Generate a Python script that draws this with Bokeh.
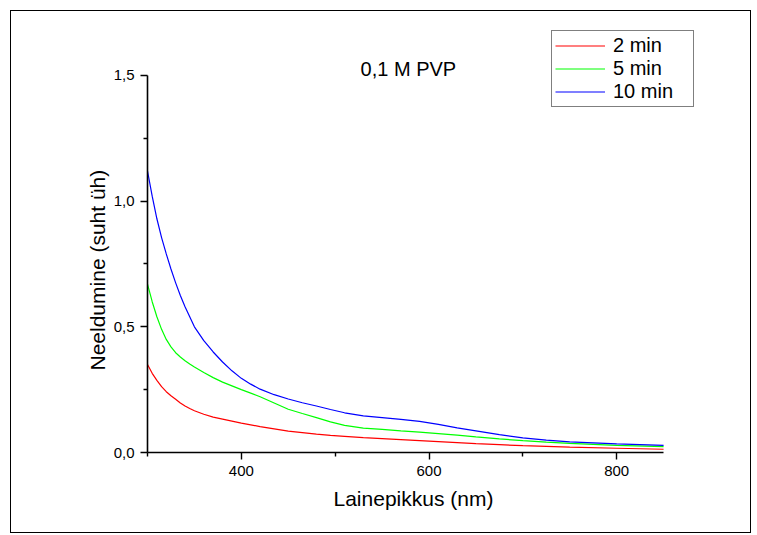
from bokeh.plotting import figure
from bokeh.models import Range1d, FixedTicker, Label, Legend, LegendItem, Title
from bokeh.embed import file_html
from bokeh.resources import INLINE

# Data
wavelength = [300, 305, 310, 315, 320, 325, 330, 335, 340, 345, 350, 360, 370,
              380, 390, 400, 410, 420, 435, 450, 465, 480, 495, 510, 530, 550,
              570, 590, 610, 630, 650, 675, 700, 725, 750, 800, 850]
abs_2min = [0.35, 0.315, 0.287, 0.262, 0.242, 0.226, 0.212, 0.197, 0.185, 0.175,
            0.166, 0.152, 0.141, 0.133, 0.125, 0.117, 0.110, 0.103, 0.094, 0.085,
            0.079, 0.073, 0.068, 0.064, 0.059, 0.055, 0.051, 0.047, 0.043, 0.039,
            0.035, 0.031, 0.027, 0.024, 0.021, 0.017, 0.013]
abs_5min = [0.67, 0.60, 0.54, 0.49, 0.45, 0.42, 0.397, 0.38, 0.365, 0.352,
            0.340, 0.318, 0.298, 0.28, 0.265, 0.25, 0.236, 0.222, 0.197, 0.172,
            0.155, 0.139, 0.122, 0.108, 0.097, 0.092, 0.086, 0.081, 0.075, 0.069,
            0.062, 0.054, 0.047, 0.041, 0.036, 0.028, 0.023]
abs_10min = [1.12, 1.02, 0.93, 0.855, 0.79, 0.73, 0.675, 0.625, 0.58, 0.54,
             0.50, 0.445, 0.40, 0.36, 0.325, 0.295, 0.272, 0.252, 0.23, 0.213,
             0.198, 0.185, 0.171, 0.158, 0.146, 0.139, 0.132, 0.124, 0.112, 0.098,
             0.086, 0.071, 0.058, 0.049, 0.042, 0.034, 0.028]
series_names = ["2 min", "5 min", "10 min"]
series_colors = ["#ff0000", "#00ff00", "#0000ff"]
x_ticks = [400, 600, 800]
x_minor = [300, 500, 700]
y_ticks = [0, 0.5, 1.0, 1.5]
y_tick_labels = ["0,0", "0,5", "1,0", "1,5"]
title_text = "0,1 M PVP"
x_label = "Lainepikkus (nm)"
y_label = "Neeldumine (suht üh)"

FONT = "Liberation Sans"

p = figure(width=741, height=523, output_backend="svg", toolbar_location=None,
           x_range=Range1d(300, 900), y_range=Range1d(0, 1.7427),
           min_border_left=136, min_border_right=42, min_border_top=3,
           min_border_bottom=82)
p.margin = (10, 0, 0, 10)
p.styles = {"border": "1px solid black"}
p.outline_line_color = None
p.xgrid.visible = False
p.ygrid.visible = False
p.background_fill_color = "white"
p.border_fill_color = "white"

renderers = []
for vals, col in zip([abs_2min, abs_5min, abs_10min], series_colors):
    r = p.line(wavelength, vals, line_color=col, line_width=1.2)
    renderers.append(r)

for ax in (p.xaxis[0], p.yaxis[0]):
    ax.axis_line_color = "black"
    ax.axis_line_width = 1.6
    ax.major_tick_line_color = "black"
    ax.major_tick_line_width = 1.4
    ax.minor_tick_line_color = "black"
    ax.minor_tick_line_width = 1.4
    ax.major_tick_in = 0
    ax.major_tick_out = 7
    ax.minor_tick_in = 0
    ax.minor_tick_out = 4
    ax.major_label_text_font = FONT
    ax.major_label_text_font_size = "15px"
    ax.major_label_text_color = "black"

xa = p.xaxis[0]
xa.ticker = FixedTicker(ticks=x_ticks, minor_ticks=x_minor)
xa.bounds = (300, 850)
xa.major_label_standoff = 6

ya = p.yaxis[0]
ya.ticker = FixedTicker(ticks=y_ticks, minor_ticks=[0.25, 0.75, 1.25])
ya.bounds = (0, 1.5)
ya.major_label_overrides = {t: s for t, s in zip(y_ticks, y_tick_labels)}
ya.major_label_standoff = 6

# axis titles, positioned along the drawn axis extent rather than the whole frame
p.add_layout(Title(text=x_label, align="left", offset=186, standoff=13,
                   text_line_height=1.6,
                   text_font=FONT, text_font_size="21px",
                   text_font_style="normal", text_color="black"), "below")
p.add_layout(Title(text=y_label, align="left", offset=82, standoff=4,
                   text_font=FONT, text_font_size="21px",
                   text_font_style="normal", text_color="black"), "left")

p.add_layout(Label(x=578, y=1.524, text=title_text, text_align="center",
                   text_baseline="alphabetic", text_font=FONT,
                   text_font_size="20px", text_color="black"))

legend = Legend(items=[LegendItem(label=n, renderers=[r])
                       for n, r in zip(series_names, renderers)],
                location="top_right", margin=16, padding=3, spacing=-1,
                glyph_width=50, glyph_height=21, label_height=21,
                label_standoff=8, label_width=77,
                label_text_font=FONT, label_text_font_size="20px",
                label_text_color="black",
                border_line_color="black", border_line_width=1.2,
                background_fill_color="white", background_fill_alpha=1.0)
p.add_layout(legend, "center")

open("out.html", "w").write(file_html(p, INLINE))
